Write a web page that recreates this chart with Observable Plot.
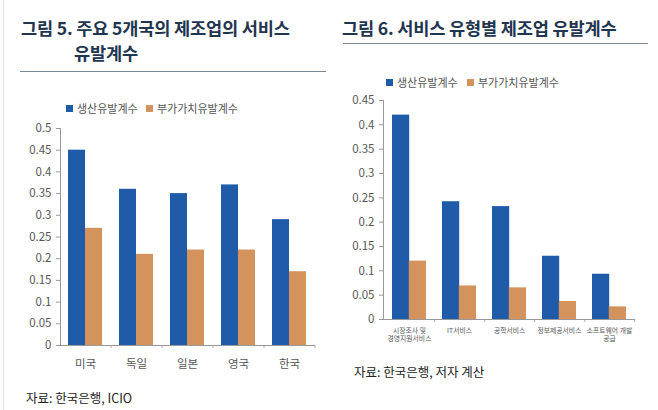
<!DOCTYPE html>
<html><head><meta charset="utf-8">
<script src="https://cdn.jsdelivr.net/npm/d3@7"></script>
<script src="https://cdn.jsdelivr.net/npm/@observablehq/plot@0.6"></script>
<style>
body{margin:0;background:#fff;font-family:"Noto Sans CJK KR","Noto Sans",sans-serif;}
#wrap{position:relative;width:658px;height:410px;overflow:hidden;background:#fff;}
.abs{position:absolute;}
.title{font-weight:700;font-size:17.6px;color:#1f3550;letter-spacing:-0.2px;white-space:nowrap;}
.rule{height:0;border-top:1.5px solid #7a8796;}
.leg{font-size:11px;color:#555;white-space:nowrap;display:flex;align-items:center;}
.sw{display:inline-block;width:7px;height:7px;margin-right:4px;}
.cap{font-size:12.5px;color:#222;white-space:nowrap;}
</style></head>
<body><div id="wrap"></div>
<script>
// Figure 5 data
const countries = ["미국", "독일", "일본", "영국", "한국"];
const prodCoef5 = [0.45, 0.36, 0.35, 0.37, 0.29];
const vaCoef5 = [0.27, 0.21, 0.22, 0.22, 0.17];
const yTicks5 = [0, 0.05, 0.1, 0.15, 0.2, 0.25, 0.3, 0.35, 0.4, 0.45, 0.5];

// Figure 6 data
const serviceTypes = ["시장조사 및\n경영지원서비스", "IT서비스", "공학서비스", "정보제공서비스", "소프트웨어 개발\n공급"];
const prodCoef6 = [0.42, 0.242, 0.232, 0.13, 0.093];
const vaCoef6 = [0.12, 0.069, 0.065, 0.037, 0.026];
const yTicks6 = [0, 0.05, 0.1, 0.15, 0.2, 0.25, 0.3, 0.35, 0.4, 0.45];

const seriesNames = ["생산유발계수", "부가가치유발계수"];
const colors = ["#1f5ba8", "#d4925c"];

const wrap = document.getElementById("wrap");
function add(html, cls, style){const d=document.createElement("div");d.className="abs "+cls;d.innerHTML=html;Object.assign(d.style,style);wrap.appendChild(d);return d;}

// left border
add("", "", {left:"3px",top:"0px",width:"0px",height:"410px",borderLeft:"1px solid #e4e4e4"});

add("그림 5. 주요 5개국의 제조업의 서비스", "title", {left:"21px",top:"15px"});
add("유발계수", "title", {left:"74px",top:"40px"});
add("", "rule", {left:"20px",top:"71px",width:"306px"});
add("그림 6. 서비스 유형별 제조업 유발계수", "title", {left:"342px",top:"15px"});
add("", "rule", {left:"343px",top:"43px",width:"305px"});

function legend(left, top, gap){
  seriesNames.forEach((s,i)=>{
    add(`<span class="sw" style="background:${colors[i]}"></span>${s}`, "leg", {left:(left+i*gap)+"px",top:top+"px"});
  });
}
legend(66, 100, 80);
legend(386, 74, 81);

function chart(cats, prod, va, ticks, yMax, opts){
  const rows = cats.map((c,i)=>({cat:c, prod:prod[i], va:va[i]}));
  const half = opts.half;
  const p = Plot.plot({
    width: opts.width, height: opts.height,
    marginLeft: opts.ml, marginRight: opts.mr, marginTop: opts.mt, marginBottom: opts.mb,
    style:{fontFamily:'"Noto Sans CJK KR","Noto Sans",sans-serif', background:"transparent"},
    x:{domain:cats, paddingInner:0.33, paddingOuter:0.165, label:null},
    y:{domain:[0,yMax], label:null},
    marks:[
      Plot.barY(rows,{x:"cat", y:"prod", fill:colors[0], insetRight:half, insetLeft:0}),
      Plot.barY(rows,{x:"cat", y:"va", fill:colors[1], insetLeft:half, insetRight:0}),
      Plot.axisY({ticks:ticks, tickSize:4, tickPadding:5, tickFormat:d=>String(+d.toFixed(2)), fontSize:opts.yfs, fill:"#555", stroke:"#999", label:null}),
      Plot.axisX({tickSize:0, tickPadding:opts.xpad, fontSize:opts.xfs, fill:"#555", label:null, lineHeight:1.25}),
      Plot.axisX({tickSize:3, text:null, dx:opts.step/2, stroke:"#aaa", label:null}),
      Plot.frame({anchor:"left", stroke:"#999"}),
      Plot.ruleY([0], {stroke:"#999"})
    ]
  });
  p.style.position="absolute"; p.style.left=opts.left+"px"; p.style.top=opts.top+"px";
  wrap.appendChild(p);
}

chart(countries, prodCoef5, vaCoef5, yTicks5, 0.5,
  {left:0, top:120, width:330, height:255, ml:60, mr:15, mt:8, mb:30, half:17, step:51, yfs:11.5, xfs:11.5, xpad:12});
chart(serviceTypes, prodCoef6, vaCoef6, yTicks6, 0.45,
  {left:330, top:92, width:328, height:267, ml:53, mr:23, mt:8, mb:40, half:16.8, step:50.4, yfs:11.5, xfs:6.8, xpad:7});

add("자료: 한국은행, ICIO", "cap", {left:"26px",top:"388px"});
add("자료: 한국은행, 저자 계산", "cap", {left:"354px",top:"362px"});
</script></body></html>
